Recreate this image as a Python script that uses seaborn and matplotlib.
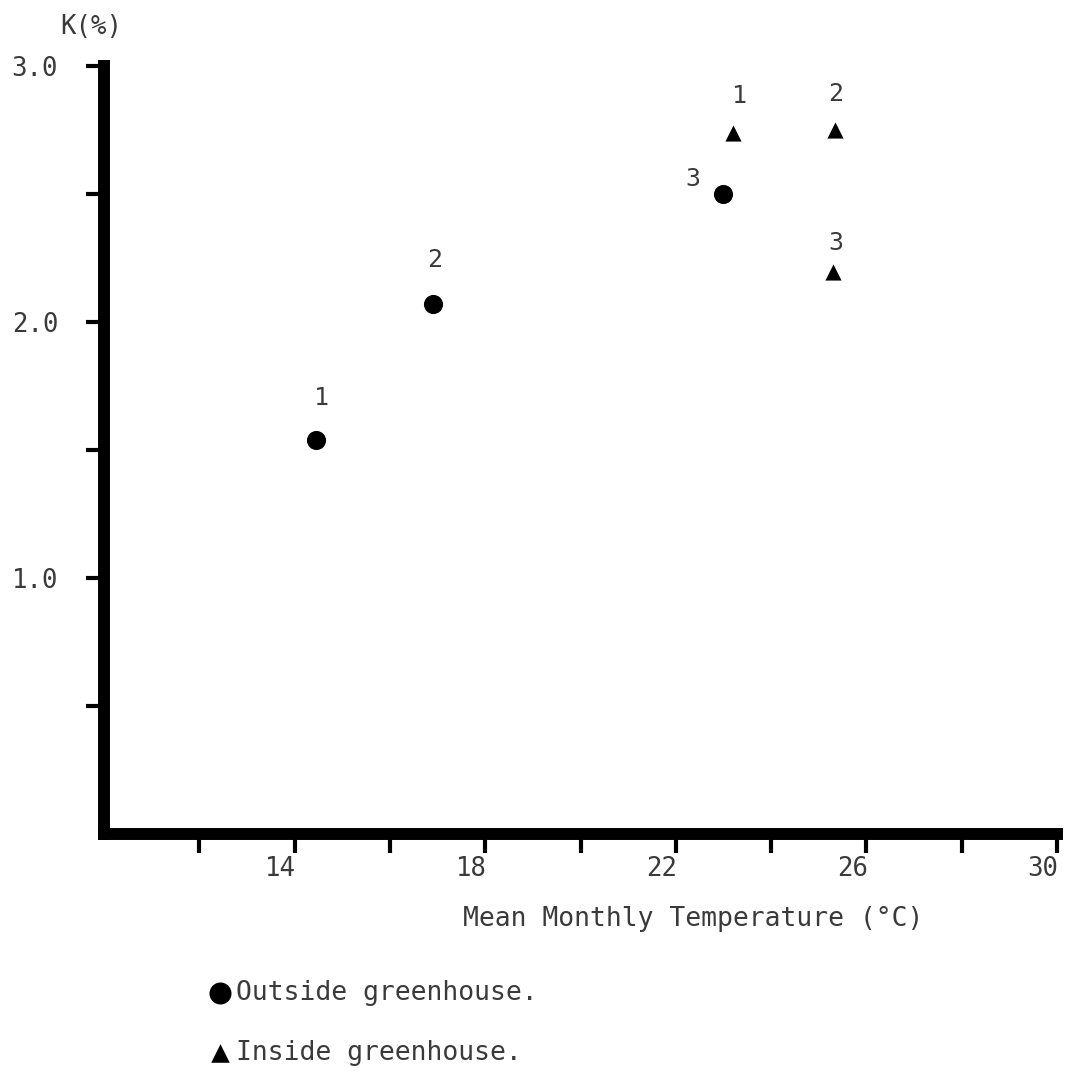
import matplotlib
matplotlib.use("Agg")
import matplotlib.pyplot as plt
import seaborn as sns
import pandas as pd
from matplotlib.transforms import ScaledTranslation

# ---- data ----
outside_temp = [14.45, 16.9, 23.0]
outside_k = [1.54, 2.07, 2.50]
outside_ids = ["1", "2", "3"]
inside_temp = [23.2, 25.35, 25.3]
inside_k = [2.74, 2.75, 2.195]
inside_ids = ["1", "2", "3"]
x_ticks = [12, 14, 16, 18, 20, 22, 24, 26, 28, 30]
x_tick_labels = ["", "14", "", "18", "", "22", "", "26", "", "30"]
y_ticks = [0.5, 1.0, 1.5, 2.0, 2.5, 3.0]
y_tick_labels = ["", "1.0", "", "2.0", "", "3.0"]
series_names = ["Outside greenhouse.", "Inside greenhouse."]

sns.set_style("white")
plt.rcParams["font.family"] = ["DejaVu Sans Mono", "DejaVu Sans"]
TXT = "#3a3a3a"

fig = plt.figure(figsize=(10.77, 10.75), dpi=100)
ax = fig.add_axes([104 / 1077, 1 - 834 / 1075, (1057 - 104) / 1077, (834 - 66) / 1075])

df_out = pd.DataFrame({"T": outside_temp, "K": outside_k})
df_in = pd.DataFrame({"T": inside_temp, "K": inside_k})
sns.scatterplot(data=df_out, x="T", y="K", ax=ax, marker="o", s=190, color="black",
                linewidth=0, label=series_names[0], clip_on=False)
sns.scatterplot(data=df_in, x="T", y="K", ax=ax, marker="^", s=135, color="black",
                linewidth=0, label=series_names[1], clip_on=False)

# point number labels
out_offsets = [(4, 30), (1, 32), (-22, 11)]
in_offsets = [(5, 26), (0, 26), (2, 21)]
for x, y, t, off in zip(outside_temp, outside_k, outside_ids, out_offsets):
    ax.annotate(t, (x, y), xytext=off, textcoords="offset points", ha="center",
                va="center", fontsize=18, color=TXT)
for x, y, t, off in zip(inside_temp, inside_k, inside_ids, in_offsets):
    ax.annotate(t, (x, y), xytext=off, textcoords="offset points", ha="center",
                va="center", fontsize=18, color=TXT)

ax.set_xlim(10, 30)
ax.set_ylim(0, 3.0)
ax.set_xticks(x_ticks)
ax.set_xticklabels(x_tick_labels)
ax.set_yticks(y_ticks)
ax.set_yticklabels(y_tick_labels)

for side in ["top", "right"]:
    ax.spines[side].set_visible(False)
for side in ["left", "bottom"]:
    ax.spines[side].set_linewidth(8.6)
    ax.spines[side].set_color("black")
    ax.spines[side].set_capstyle("projecting")

ax.tick_params(axis="x", direction="out", length=14, width=3, color="black",
               labelsize=18.5, labelcolor=TXT, pad=1.5, bottom=True)
ax.tick_params(axis="y", direction="out", length=13, width=3, color="black",
               labelsize=18.5, labelcolor=TXT, pad=20, left=True)
for lab in ax.get_xticklabels():
    lab.set_transform(lab.get_transform() + ScaledTranslation(-0.14, 0, fig.dpi_scale_trans))

ax.set_xlabel("")
ax.set_ylabel("")
fig.text(693 / 1077, 1 - 919 / 1075, "Mean Monthly Temperature (°C)", ha="center",
         va="center", fontsize=19, color=TXT)
fig.text(91 / 1077, 1 - 27 / 1075, "K(%)", ha="center", va="center", fontsize=18.5, color=TXT)

handles, labels = ax.get_legend_handles_labels()
if ax.legend_:
    ax.legend_.remove()
fig.legend(handles, labels, loc="upper left", bbox_to_anchor=(212 / 1077, 1 - 980 / 1075),
           bbox_transform=fig.transFigure, frameon=False, fontsize=19, labelcolor=TXT,
           handlelength=0.6, handletextpad=0.3, labelspacing=1.3, borderpad=0,
           borderaxespad=0, markerscale=1.15)

fig.savefig("out.png", dpi=100)
